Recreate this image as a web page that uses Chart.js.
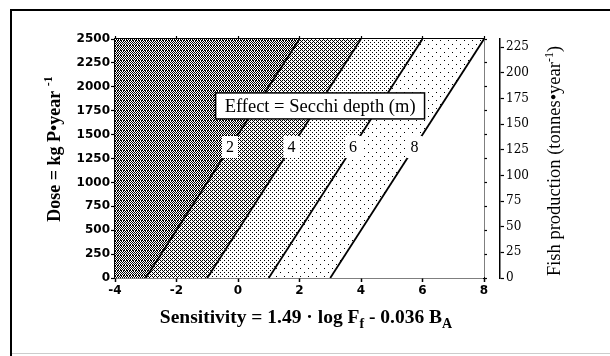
<!DOCTYPE html>
<html>
<head>
<meta charset="utf-8">
<script src="https://cdn.jsdelivr.net/npm/chart.js@4"></script>
<style>
html, body { margin: 0; padding: 0; background: #fff; }
</style>
</head>
<body>
<canvas id="chart" width="610" height="356"></canvas>
<script>
// Secchi depth contours: sensitivity where each line meets dose 0 and dose 2500
const secchiDepths = [2, 4, 6, 8];
const sensAtNoDose = [-3, -1, 1, 3];
const sensAtMaxDose = [2, 4, 6, 8];

// Axis ranges
const sensMin = -4, sensMax = 8, sensStep = 2;
const doseMin = 0, doseMax = 2500, doseStep = 250;
const fishMin = 0, fishMax = 233, fishStep = 25;

// where the depth numbers sit along each line
const labelDose = 1370;
const legendText = 'Effect = Secchi depth (m)';
const legendAnchor = { sens: 2.67, dose: 1800 };

// Stipple fills, darkest first
function makePattern(w, h, isBlack) {
    const c = document.createElement('canvas');
    c.width = w; c.height = h;
    const g = c.getContext('2d');
    g.fillStyle = '#fff';
    g.fillRect(0, 0, w, h);
    g.fillStyle = '#000';
    for (let y = 0; y < h; y++) {
        for (let x = 0; x < w; x++) {
            if (isBlack(x, y)) g.fillRect(x, y, 1, 1);
        }
    }
    return g.createPattern(c, 'repeat');
}

const patterns = [
    makePattern(6, 5, (x, y) => y === 0 ? (x % 3 !== 2) : (x + y) % 2 === 0),
    makePattern(4, 4, (x, y) => (y % 2 === 0 && x % 2 === 0) || (y === 1 && x === 1) || (y === 3 && x === 3)),
    makePattern(4, 4, (x, y) => (x === 0 && y === 0) || (x === 2 && y === 2)),
    makePattern(8, 8, (x, y) => (x === 0 && y === 0) || (x === 4 && y === 4)),
    '#ffffff'
];

const datasets = [];

// whole plot area first, then each zone to the right of a contour on top
datasets.push({
    data: [{ x: sensMin, y: doseMax }, { x: sensMax, y: doseMax }],
    fill: 'start',
    backgroundColor: patterns[0],
    borderWidth: 0,
    pointRadius: 0,
    order: 20
});
secchiDepths.forEach((d, i) => {
    datasets.push({
        data: [
            { x: sensAtNoDose[i], y: doseMin },
            { x: sensAtMaxDose[i], y: doseMax },
            { x: sensMax, y: doseMax }
        ],
        fill: 'start',
        backgroundColor: patterns[i + 1],
        borderWidth: 0,
        pointRadius: 0,
        order: 19 - i
    });
});

// contour lines
secchiDepths.forEach((d, i) => {
    datasets.push({
        data: [{ x: sensAtNoDose[i], y: doseMin }, { x: sensAtMaxDose[i], y: doseMax }],
        fill: false,
        borderColor: '#000',
        borderWidth: 1.8,
        pointRadius: 0,
        order: 0
    });
});

function drawSegments(ctx, segs, cx, baseline) {
    let total = 0;
    segs.forEach(s => { ctx.font = s.font; s.w = ctx.measureText(s.text).width; total += s.w; });
    let x = cx - total / 2;
    ctx.textAlign = 'left';
    ctx.textBaseline = 'alphabetic';
    segs.forEach(s => {
        ctx.font = s.font;
        ctx.fillText(s.text, x, baseline + (s.dy || 0));
        x += s.w;
    });
}

const decorPlugin = {
    id: 'decor',
    beforeDraw(chart) {
        const ctx = chart.ctx;
        ctx.save();
        ctx.fillStyle = '#fff';
        ctx.fillRect(0, 0, chart.width, chart.height);
        ctx.strokeStyle = '#000';
        ctx.lineWidth = 2;
        ctx.beginPath();
        ctx.moveTo(11, chart.height);
        ctx.lineTo(11, 10);
        ctx.lineTo(chart.width, 10);
        ctx.stroke();
        ctx.strokeStyle = '#cccccc';
        ctx.lineWidth = 1;
        ctx.beginPath();
        ctx.moveTo(12, 353.5);
        ctx.lineTo(chart.width, 353.5);
        ctx.stroke();
        ctx.restore();
    },
    afterDatasetsDraw(chart) {
        const ctx = chart.ctx;
        const xs = chart.scales.x, ys = chart.scales.y;
        ctx.save();
        // depth numbers on the lines
        const py = ys.getPixelForValue(labelDose);
        const t = (labelDose - doseMin) / (doseMax - doseMin);
        ctx.font = '16px "Liberation Serif"';
        ctx.textAlign = 'center';
        ctx.textBaseline = 'middle';
        secchiDepths.forEach((d, i) => {
            const s = sensAtNoDose[i] + t * (sensAtMaxDose[i] - sensAtNoDose[i]);
            const px = xs.getPixelForValue(s);
            ctx.fillStyle = '#fff';
            ctx.fillRect(px - 8, py - 11, 16, 22);
            ctx.fillStyle = '#000';
            ctx.fillText(String(d), px, py + 1);
        });
        // legend box
        ctx.font = '18.5px "Liberation Serif"';
        const tw = ctx.measureText(legendText).width;
        const lx = xs.getPixelForValue(legendAnchor.sens);
        const ly = ys.getPixelForValue(legendAnchor.dose);
        const bw = tw + 18, bh = 26;
        ctx.fillStyle = '#fff';
        ctx.fillRect(lx - bw / 2, ly - bh / 2, bw, bh);
        ctx.strokeStyle = '#000';
        ctx.lineWidth = 1.5;
        ctx.strokeRect(lx - bw / 2, ly - bh / 2, bw, bh);
        ctx.fillStyle = '#000';
        ctx.textAlign = 'center';
        ctx.textBaseline = 'alphabetic';
        ctx.fillText(legendText, lx, ly + 6);
        ctx.restore();
    },
    afterDraw(chart) {
        const ctx = chart.ctx;
        ctx.save();
        ctx.fillStyle = '#000';
        // bottom title
        drawSegments(ctx, [
            { text: 'Sensitivity = 1.49 \u00b7 log F', font: 'bold 19.5px "Liberation Serif"' },
            { text: 'f', font: 'bold 14px "Liberation Serif"', dy: 5 },
            { text: ' - 0.036 B', font: 'bold 19.5px "Liberation Serif"' },
            { text: 'A', font: 'bold 14px "Liberation Serif"', dy: 5 }
        ], 306, 323);
        // left title
        ctx.save();
        ctx.translate(53, 149);
        ctx.rotate(-Math.PI / 2);
        drawSegments(ctx, [
            { text: 'Dose = kg P\u2022year ', font: 'bold 18px "Liberation Serif"' },
            { text: '-1', font: 'bold 12px "Liberation Serif"', dy: -8 }
        ], 0, 7);
        ctx.restore();
        // right title
        ctx.save();
        ctx.translate(553, 161);
        ctx.rotate(-Math.PI / 2);
        drawSegments(ctx, [
            { text: 'Fish production (tonnes\u2022year', font: '18.5px "Liberation Serif"' },
            { text: '-1', font: '12px "Liberation Serif"', dy: -7 },
            { text: ')', font: '18.5px "Liberation Serif"' }
        ], 0, 7);
        ctx.restore();
        ctx.restore();
    }
};

const tickFont = { family: 'DejaVu Sans', weight: 'bold', size: 12 };
const plainLabel = v => String(v);

new Chart(document.getElementById('chart'), {
    type: 'line',
    data: { datasets: datasets },
    plugins: [decorPlugin],
    options: {
        responsive: false,
        animation: false,
        devicePixelRatio: 1,
        layout: { padding: { top: 36, left: 0, right: 0, bottom: 0 } },
        plugins: { legend: { display: false }, tooltip: { enabled: false } },
        scales: {
            x: {
                type: 'linear',
                min: sensMin, max: sensMax,
                ticks: { stepSize: sensStep, color: '#000', font: tickFont, padding: 2, callback: plainLabel },
                grid: { drawOnChartArea: false, tickLength: 4, tickColor: '#000', tickWidth: 1.5 },
                border: { color: '#000', width: 1.5 },
                afterFit: s => { s.height = 78; }
            },
            x2: {
                type: 'linear',
                axis: 'x',
                position: 'top',
                min: sensMin, max: sensMax,
                ticks: { stepSize: sensStep, display: false },
                grid: { drawOnChartArea: false, tickLength: 3, tickColor: '#000', tickWidth: 1.2 },
                border: { color: '#000', width: 1.5 },
                afterFit: s => { s.height = 3; }
            },
            y: {
                type: 'linear',
                min: doseMin, max: doseMax,
                ticks: { stepSize: doseStep, color: '#000', font: tickFont, padding: 1, callback: plainLabel },
                grid: { drawOnChartArea: false, tickLength: 4, tickColor: '#000', tickWidth: 1.2 },
                border: { color: '#000', width: 1.5 },
                afterFit: s => { s.width = 115; }
            },
            yr: {
                type: 'linear',
                axis: 'y',
                position: 'right',
                weight: 0,
                min: doseMin, max: doseMax,
                ticks: { stepSize: doseStep, display: false },
                grid: { drawOnChartArea: false, tickLength: 3, tickColor: '#000', tickWidth: 1.2 },
                border: { color: '#000', width: 1.5 },
                afterFit: s => { s.width = 16; }
            },
            y2: {
                type: 'linear',
                axis: 'y',
                position: 'right',
                weight: 1,
                min: fishMin, max: fishMax,
                ticks: { stepSize: fishStep, color: '#000', font: { family: 'DejaVu Serif', size: 12 }, padding: 2, callback: plainLabel },
                grid: { drawOnChartArea: false, tickLength: 4, tickColor: '#000', tickWidth: 1.2 },
                border: { color: '#000', width: 1.5 },
                afterBuildTicks: s => {
                    const ticks = [];
                    for (let v = fishMin; v <= fishMax; v += fishStep) ticks.push({ value: v });
                    s.ticks = ticks;
                },
                afterFit: s => { s.width = 110; }
            }
        }
    }
});
</script>
</body>
</html>
